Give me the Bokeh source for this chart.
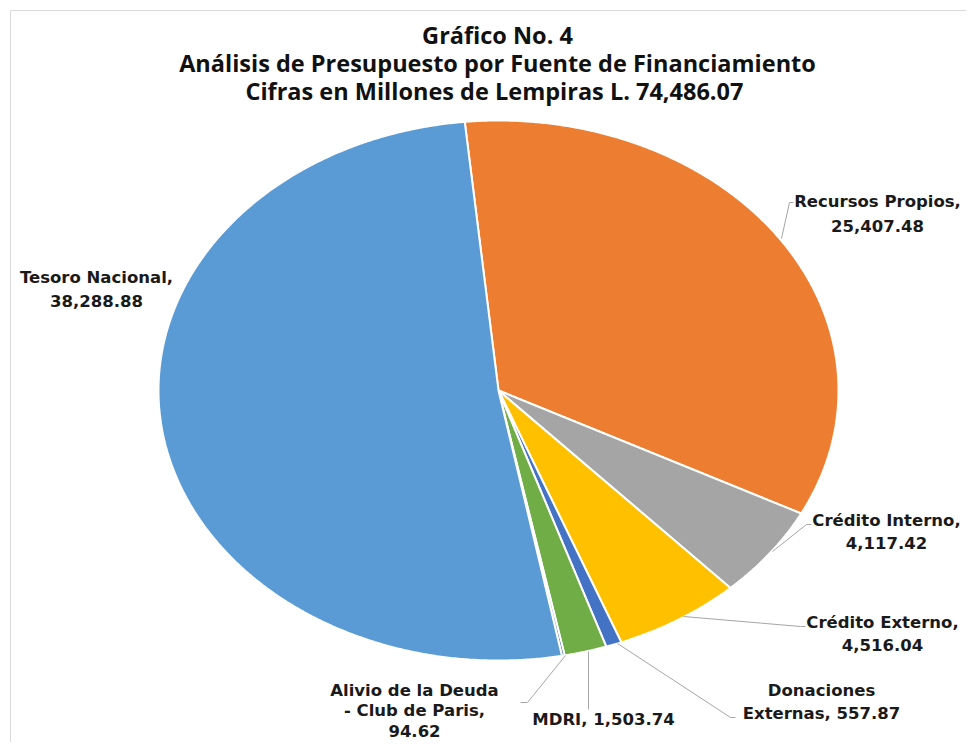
import math
from bokeh.plotting import figure
from bokeh.models import Range1d
from bokeh.core.properties import value
from bokeh.embed import file_html
from bokeh.resources import INLINE

# ---- data (clockwise order, starting near 12 o'clock) ----
categories = ["Recursos Propios", "Crédito Interno", "Crédito Externo", "Donaciones Externas",
              "MDRI", "Alivio de la Deuda - Club de Paris", "Tesoro Nacional"]
amounts = [25407.48, 4117.42, 4516.04, 557.87, 1503.74, 94.62, 38288.88]
colors = ["#ED7D31", "#A5A5A5", "#FFC000", "#4472C4", "#70AD47", "#255E91", "#5B9BD5"]
label_texts = [
    "Recursos Propios,\n25,407.48",
    "Crédito Interno,\n4,117.42",
    "Crédito Externo,\n4,516.04",
    "Donaciones\nExternas, 557.87",
    "MDRI, 1,503.74",
    "Alivio de la Deuda\n- Club de Paris,\n94.62",
    "Tesoro Nacional,\n38,288.88",
]
title_lines = ["Gráfico No. 4",
               "Análisis de Presupuesto por Fuente de Financiamiento",
               "Cifras en Millones de Lempiras  L. 74,486.07"]

# ---- layout (pixel-like coordinates, y downward) ----
W, H = 966, 742
CX, CY, RX, RY = 498, 390, 340, 270
START_DEG = -5.7

p = figure(width=W, height=H, output_backend="svg", toolbar_location=None,
           x_range=Range1d(0, W), y_range=Range1d(H, 0), min_border=0)
p.axis.visible = False
p.grid.visible = False
p.outline_line_color = None
p.background_fill_color = "white"

# chart border (only top/left visible)
p.line([10, 10, W], [H, 10, 10], line_color="#D9D9D9", line_width=1)

total = sum(amounts)
xs, ys = [], []
ang = START_DEG
for a in amounts:
    sweep = a / total * 360.0
    n = max(3, int(sweep * 3))
    px, py = [CX], [CY]
    for i in range(n + 1):
        t = math.radians(ang + sweep * i / n)
        px.append(CX + RX * math.sin(t))
        py.append(CY - RY * math.cos(t))
    xs.append(px)
    ys.append(py)
    ang += sweep

p.patches(xs, ys, fill_color=colors, line_color="white", line_width=2)

# leader lines
lead_x = [[781, 789, 793], [772, 806, 811], [683, 800, 805], [617, 730, 735], [588, 588], [565, 527, 520]]
lead_y = [[238, 202, 202], [551, 524, 524], [616, 626, 626], [643, 717, 717], [651, 709], [655, 702, 702]]
p.multi_line(lead_x, lead_y, line_color="#A6A6A6", line_width=1)

# labels: (center x, first line y, line step)
lab_x = [877, 886, 882, 821, 603, 414, 96]
lab_y = [201, 520, 622, 690, 719, 690, 277]
lab_step = [24, 22, 22, 23, 22, 20, 23]
for t, x, y, s in zip(label_texts, lab_x, lab_y, lab_step):
    for k, line in enumerate(t.split("\n")):
        p.text([x], [y + s * k], text=[line], text_font=value("DejaVu Sans"),
               text_font_style="bold", text_font_size="16.5px", text_color="#1a1a1a",
               text_align="center", text_baseline="middle")

for k, line in enumerate(title_lines):
    p.text([497], [34 + 28 * k], text=[line], text_font=value("Open Sans"),
           text_font_style="bold", text_font_size="23.5px", text_color="#111111",
           text_align="center", text_baseline="middle")

open("out.html", "w").write(file_html(p, INLINE))
